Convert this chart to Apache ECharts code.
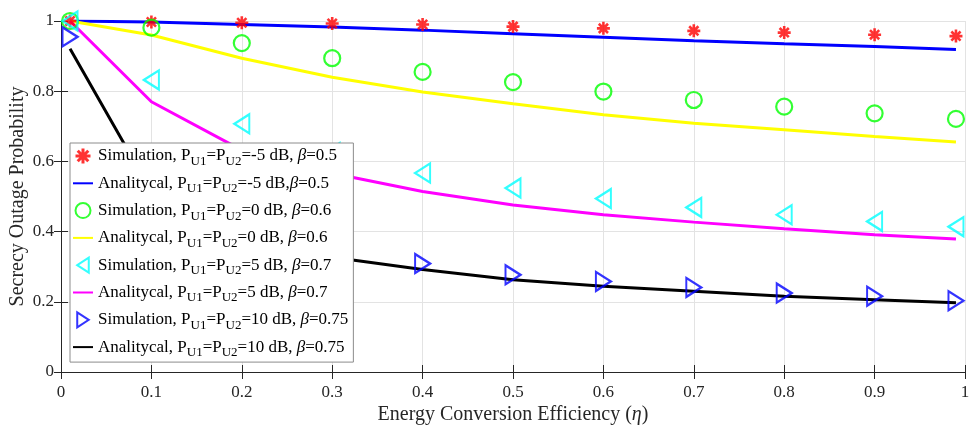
<!DOCTYPE html>
<html>
<head>
<meta charset="utf-8">
<script src="https://cdn.jsdelivr.net/npm/echarts@6/dist/echarts.min.js"></script>
<style>
  html, body { margin: 0; padding: 0; background: #fff; }
  #chart { width: 969px; height: 425px; }
</style>
</head>
<body>
<div id="chart"></div>
<script>
// x positions (energy conversion efficiency)
var eta = [0.01, 0.1, 0.2, 0.3, 0.4, 0.5, 0.6, 0.7, 0.8, 0.9, 0.99];

// simulation points
var simM5 = [1.0, 0.997, 0.995, 0.993, 0.99, 0.984, 0.979, 0.972, 0.967, 0.961, 0.957];
var sim0 = [1.0, 0.981, 0.937, 0.894, 0.855, 0.826, 0.799, 0.775, 0.756, 0.737, 0.721];
var sim5 = [1.0, 0.832, 0.707, 0.625, 0.567, 0.524, 0.494, 0.469, 0.448, 0.429, 0.414];
var sim10 = [0.955, 0.52, 0.39, 0.335, 0.309, 0.277, 0.258, 0.241, 0.225, 0.216, 0.203];

// analytical curves
var anaM5 = [1.0, 0.997, 0.99, 0.983, 0.974, 0.964, 0.954, 0.944, 0.935, 0.927, 0.919];
var ana0 = [1.0, 0.96, 0.894, 0.84, 0.798, 0.764, 0.733, 0.709, 0.69, 0.671, 0.655];
var ana5 = [1.0, 0.77, 0.632, 0.566, 0.514, 0.476, 0.448, 0.427, 0.408, 0.391, 0.379];
var ana10 = [0.921, 0.514, 0.385, 0.327, 0.292, 0.263, 0.244, 0.23, 0.216, 0.206, 0.197];

var names = [
  'Simulation, PU1=PU2=-5 dB, β=0.5',
  'Analitycal, PU1=PU2=-5 dB,β=0.5',
  'Simulation, PU1=PU2=0 dB, β=0.6',
  'Analitycal, PU1=PU2=0 dB, β=0.6',
  'Simulation, PU1=PU2=5 dB, β=0.7',
  'Analitycal, PU1=PU2=5 dB, β=0.7',
  'Simulation, PU1=PU2=10 dB, β=0.75',
  'Analitycal, PU1=PU2=10 dB, β=0.75'
];

var FONT = '"Liberation Serif", "Times New Roman", serif';
var AXIS = '#262626';

var star = 'path://M-10,-2 L10,-2 L10,2 L-10,2 Z ' +
  'M-2,-10 L2,-10 L2,10 L-2,10 Z ' +
  'M-5.66,-8.49 L8.49,5.66 L5.66,8.49 L-8.49,-5.66 Z ' +
  'M-5.66,8.49 L-8.49,5.66 L5.66,-8.49 L8.49,-5.66 Z';
var triLeft = 'path://M0,6.5 L10,0 L10,13 Z';
var triRight = 'path://M10,6.5 L0,0 L0,13 Z';

function pairs(ys) {
  return eta.map(function (x, i) { return [x, ys[i]]; });
}

function sim(name, ys, symbol, size, rotate, color, filled) {
  return {
    name: name,
    type: 'scatter',
    data: pairs(ys),
    symbol: symbol,
    symbolSize: size,
    symbolRotate: rotate,
    itemStyle: filled
      ? { color: color, borderWidth: 0 }
      : { color: 'rgba(0,0,0,0)', borderColor: color, borderWidth: 2.2 },
    z: 3
  };
}

function ana(name, ys, color) {
  return {
    name: name,
    type: 'line',
    data: pairs(ys),
    symbol: 'none',
    lineStyle: { color: color, width: 3 },
    itemStyle: { color: color },
    z: 2
  };
}

// legend entries: markers for simulation, plain lines for analytical
var legendData = [
  { name: names[0] },
  { name: names[1], itemStyle: { opacity: 0 } },
  { name: names[2] },
  { name: names[3], itemStyle: { opacity: 0 } },
  { name: names[4], icon: triLeft },
  { name: names[5], itemStyle: { opacity: 0 } },
  { name: names[6], icon: triRight },
  { name: names[7], itemStyle: { opacity: 0 } }
];

var chart = echarts.init(document.getElementById('chart'));

chart.setOption({
  animation: false,
  backgroundColor: '#fff',
  grid: { left: 61, right: 4, top: 21, bottom: 53, outerBoundsMode: 'none', containLabel: false },
  xAxis: [{
    type: 'value', min: 0, max: 1, interval: 0.1,
    name: 'Energy Conversion Efficiency ({i|η})',
    nameLocation: 'middle', nameGap: 33, nameMoveOverlap: false,
    nameTextStyle: { fontFamily: FONT, fontSize: 20, color: AXIS,
      rich: { i: { fontFamily: FONT, fontSize: 20, fontStyle: 'italic', color: AXIS } } },
    axisLine: { lineStyle: { color: AXIS, width: 1 } },
    axisTick: { inside: true, length: 7, lineStyle: { color: AXIS } },
    axisLabel: { fontFamily: FONT, fontSize: 17, color: AXIS, margin: 12 },
    splitLine: { show: true, lineStyle: { color: '#e3e3e3', width: 1 } }
  }, {
    type: 'value', min: 0, max: 1, interval: 0.1, position: 'top',
    axisLine: { show: true, lineStyle: { color: AXIS, width: 1 } },
    axisTick: { show: true, inside: true, length: 7, lineStyle: { color: AXIS } },
    axisLabel: { show: false },
    splitLine: { show: false }
  }],
  yAxis: [{
    type: 'value', min: 0, max: 1, interval: 0.2,
    name: 'Secrecy Outage Probability',
    nameLocation: 'middle', nameGap: 33, nameMoveOverlap: false,
    nameTextStyle: { fontFamily: FONT, fontSize: 20, color: AXIS },
    axisLine: { show: true, lineStyle: { color: AXIS, width: 1 } },
    axisTick: { show: true, inside: true, length: 7, lineStyle: { color: AXIS } },
    axisLabel: { fontFamily: FONT, fontSize: 17, color: AXIS, margin: 7 },
    splitLine: { show: true, lineStyle: { color: '#e3e3e3', width: 1 } }
  }, {
    type: 'value', min: 0, max: 1, interval: 0.2, position: 'right',
    axisLine: { show: true, lineStyle: { color: AXIS, width: 1 } },
    axisTick: { show: true, inside: true, length: 7, lineStyle: { color: AXIS } },
    axisLabel: { show: false },
    splitLine: { show: false }
  }],
  legend: {
    orient: 'vertical',
    left: 70, top: 143,
    padding: [1, 5, 3, 2],
    itemGap: 3.3,
    itemWidth: 20,
    itemHeight: 15,
    backgroundColor: '#fff',
    borderColor: '#8c8c8c',
    borderWidth: 1,
    borderRadius: 0,
    z: 10,
    data: legendData,
    formatter: function (n) {
      return n.replace('PU1', 'P{s|U1}').replace('PU2', 'P{s|U2}').replace('β', '{b|β}');
    },
    textStyle: {
      fontFamily: FONT, fontSize: 17, color: '#000', lineHeight: 24,
      rich: {
        s: { fontFamily: FONT, fontSize: 13, color: '#000', verticalAlign: 'bottom', lineHeight: 24 },
        b: { fontFamily: FONT, fontSize: 17, fontStyle: 'italic', color: '#000', lineHeight: 24 }
      }
    }
  },
  series: [
    ana(names[1], anaM5, '#0000ff'),
    ana(names[3], ana0, '#ffff00'),
    ana(names[5], ana5, '#ff00ff'),
    ana(names[7], ana10, '#000000'),
    sim(names[0], simM5, star, 13, 0, '#ff0000', true),
    sim(names[2], sim0, 'circle', 16, 0, '#00ff00', false),
    sim(names[4], sim5, 'triangle', [19, 15], 90, '#00ffff', false),
    sim(names[6], sim10, 'triangle', [19, 15], -90, '#0000ff', false)
  ]
});
</script>
</body>
</html>
